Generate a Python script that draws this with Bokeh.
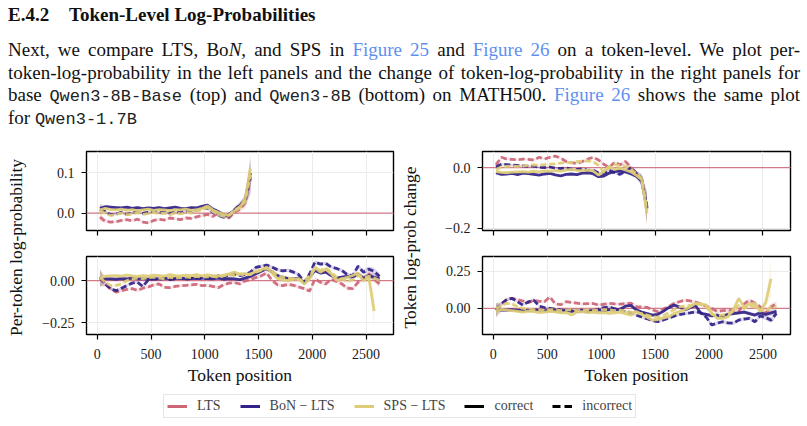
import math
from bokeh.plotting import figure
from bokeh.models import (ColumnDataSource, Range1d, FixedTicker, Span, Label,
                          Legend, LegendItem, Div)
from bokeh.layouts import column, row
from bokeh.embed import file_html
from bokeh.resources import INLINE

NAN = float("nan")

# ------------------------------------------------------------------ data
x_top = [25, 75, 125, 175, 225, 275, 325, 375, 425, 475, 525, 575, 625, 675, 725,
         775, 825, 875, 925, 975, 1025, 1075, 1125, 1175, 1225, 1275, 1325, 1375, 1425]
x_bot = [25, 75, 125, 175, 225, 275, 325, 375, 425, 475, 525, 575, 625, 675, 725,
         775, 825, 875, 925, 975, 1025, 1075, 1125, 1175, 1225, 1275, 1325, 1375,
         1425, 1475, 1525, 1575, 1625, 1675, 1725, 1775, 1825, 1875, 1925, 1975,
         2025, 2075, 2125, 2175, 2225, 2275, 2325, 2375, 2425, 2475, 2525, 2575, 2625]

# top-left: Qwen3-8B-Base, per-token log-probability
tl_lts_i = [-0.010, -0.020, -0.022, -0.021, -0.018, -0.016, -0.019, -0.015, -0.022, -0.024,
            -0.018, -0.015, -0.017, -0.012, -0.014, -0.016, -0.012, -0.013, -0.009, -0.006,
            -0.003, -0.008, 0.000, -0.006, -0.012, 0.002, 0.010, 0.025, 0.085]
tl_bon_c = [0.012, 0.016, 0.015, 0.014, 0.013, 0.015, 0.012, 0.014, 0.011, 0.013,
            0.012, 0.014, 0.011, 0.013, 0.015, 0.012, 0.011, 0.014, 0.013, 0.017,
            0.020, 0.010, 0.004, -0.004, -0.008, 0.006, 0.018, 0.032, 0.100]
tl_bon_i = [0.010, 0.004, -0.004, -0.002, 0.002, -0.003, 0.001, 0.004, 0.000, 0.002,
            0.005, 0.001, 0.003, 0.000, 0.004, 0.002, 0.006, 0.003, 0.008, 0.015,
            0.012, 0.002, -0.005, -0.010, -0.003, 0.008, 0.020, 0.030, 0.090]
tl_sps_c = [0.008, 0.012, 0.009, 0.008, 0.010, 0.007, 0.009, 0.006, 0.008, 0.010,
            0.007, 0.009, 0.008, 0.006, 0.009, 0.008, 0.010, 0.007, 0.009, 0.012,
            0.018, 0.008, 0.002, -0.003, -0.006, 0.005, 0.014, 0.035, 0.110]
tl_sps_i = [0.006, 0.000, -0.006, -0.003, 0.000, -0.004, -0.002, 0.001, -0.003, -0.001,
            0.002, -0.002, 0.000, -0.004, 0.001, -0.002, 0.002, 0.000, 0.004, 0.010,
            0.014, 0.004, -0.004, -0.008, -0.004, 0.006, 0.016, 0.028, 0.095]
tl_band = [0.010, 0.004, 0.003, 0.003, 0.003, 0.003, 0.003, 0.003, 0.003, 0.003,
           0.003, 0.003, 0.003, 0.003, 0.003, 0.003, 0.003, 0.003, 0.003, 0.004,
           0.004, 0.004, 0.004, 0.005, 0.005, 0.006, 0.008, 0.012, 0.040]

# top-right: Qwen3-8B-Base, token log-prob change
tr_lts_i = [0.009, 0.034, 0.028, 0.027, 0.026, 0.028, 0.027, 0.025, 0.034, 0.028,
            0.034, 0.038, 0.031, 0.020, 0.016, 0.013, 0.020, 0.028, 0.034, 0.025,
            0.011, 0.000, 0.018, 0.009, 0.020, 0.002, -0.020, -0.039, -0.134]
tr_bon_c = [-0.017, -0.022, -0.021, -0.019, -0.023, -0.018, -0.020, -0.022, -0.025, -0.021,
            -0.019, -0.024, -0.027, -0.022, -0.021, -0.023, -0.018, -0.017, -0.020, -0.030,
            -0.028, -0.018, -0.013, -0.011, -0.014, -0.020, -0.028, -0.045, -0.135]
tr_bon_i = [0.002, 0.011, 0.010, 0.008, 0.007, 0.006, 0.004, 0.005, 0.001, 0.000,
            0.002, -0.002, -0.003, -0.001, -0.005, -0.006, -0.004, -0.009, -0.008, -0.018,
            -0.020, -0.008, -0.017, -0.022, -0.012, 0.000, -0.018, -0.035, -0.130]
tr_sps_c = [-0.013, -0.016, -0.017, -0.015, -0.014, -0.013, -0.015, -0.012, -0.014, -0.011,
            -0.012, -0.010, -0.012, -0.008, -0.006, -0.009, -0.010, -0.008, -0.011, -0.025,
            -0.012, 0.004, -0.006, -0.002, -0.008, -0.014, -0.025, -0.040, -0.150]
tr_sps_i = [-0.006, 0.002, 0.004, 0.005, 0.004, 0.006, 0.007, 0.009, 0.008, 0.010,
            0.011, 0.012, 0.015, 0.017, 0.016, 0.020, 0.021, 0.022, 0.019, 0.008,
            -0.015, 0.000, 0.010, 0.006, 0.005, -0.005, -0.020, -0.035, -0.140]
tr_band = [0.008, 0.004, 0.003, 0.003, 0.003, 0.003, 0.003, 0.003, 0.003, 0.003,
           0.003, 0.003, 0.003, 0.003, 0.003, 0.003, 0.003, 0.003, 0.003, 0.004,
           0.004, 0.004, 0.004, 0.005, 0.005, 0.006, 0.008, 0.015, 0.050]

# bottom-left: Qwen3-8B, per-token log-probability
bl_lts_i = [0.010, -0.020, -0.048, -0.068, -0.060, -0.052, -0.048, -0.058, -0.045, -0.038,
            -0.025, -0.020, -0.040, -0.042, -0.035, -0.030, -0.028, -0.025, -0.022, -0.030,
            -0.028, -0.035, -0.042, -0.025, -0.015, -0.012, -0.020, -0.002, 0.005, 0.018,
            0.028, 0.045, 0.002, -0.025, -0.030, -0.022, -0.028, -0.038, -0.048, -0.062,
            0.010, -0.010, -0.020, 0.008, -0.005, -0.020, -0.045, -0.048, -0.010, 0.010,
            0.040, 0.010, -0.020]
bl_bon_c = [0.010, 0.012, 0.010, 0.008, 0.012, 0.010, 0.014, 0.010, 0.012, 0.008,
            0.012, 0.010, 0.014, 0.010, 0.012, 0.016, 0.010, 0.014, 0.012, 0.016,
            0.012, 0.010, 0.014, 0.008, 0.012, 0.010, 0.006, 0.015, 0.025, 0.040,
            0.055, 0.070, 0.050, 0.030, 0.020, 0.012, 0.010, 0.015, -0.015, 0.020,
            0.060, 0.045, 0.050, 0.030, 0.015, 0.020, 0.025, 0.020, 0.040, 0.015,
            0.030, 0.020, 0.010]
bl_bon_i = [0.020, -0.020, -0.050, -0.060, -0.045, -0.030, -0.015, -0.010, -0.035, 0.005,
            0.010, 0.008, 0.012, 0.006, 0.010, 0.014, 0.008, 0.012, 0.016, 0.010,
            0.014, 0.018, 0.028, 0.020, 0.032, 0.040, 0.030, 0.036, 0.050, 0.078,
            0.085, 0.092, 0.080, 0.065, 0.058, 0.062, 0.050, 0.035, -0.010, 0.040,
            0.110, 0.098, 0.102, 0.080, 0.072, 0.060, 0.035, 0.028, 0.085, 0.050,
            0.068, 0.055, 0.025]
bl_sps_c = [0.015, 0.025, 0.028, 0.030, 0.026, 0.032, 0.028, 0.025, 0.030, 0.027,
            0.032, 0.030, 0.026, 0.035, 0.030, 0.028, 0.033, 0.030, 0.036, 0.028,
            0.034, 0.030, 0.026, 0.032, 0.040, 0.050, 0.038, 0.042, 0.036, 0.055,
            0.062, 0.080, 0.045, 0.012, 0.005, 0.000, 0.008, 0.012, -0.020, 0.010,
            0.080, 0.050, 0.068, 0.040, 0.002, 0.010, 0.020, 0.030, 0.045, 0.000,
            0.020, -0.180, NAN]
bl_sps_i = [0.018, -0.010, -0.030, -0.028, -0.020, 0.000, 0.010, 0.015, 0.012, 0.018,
            0.020, 0.015, 0.010, 0.020, 0.015, 0.018, 0.022, 0.018, 0.025, 0.020,
            0.022, 0.025, 0.018, 0.028, 0.035, 0.030, 0.040, 0.032, 0.040, 0.050,
            0.060, 0.072, 0.060, 0.030, 0.020, 0.015, 0.010, 0.005, -0.005, 0.030,
            0.070, 0.060, 0.075, 0.050, 0.020, 0.010, -0.005, 0.005, 0.030, 0.020,
            0.025, 0.015, 0.000]
bl_band = [0.050, 0.012, 0.010, 0.008, 0.008, 0.008, 0.008, 0.008, 0.008, 0.008,
           0.008, 0.008, 0.008, 0.008, 0.008, 0.008, 0.008, 0.008, 0.008, 0.008,
           0.008, 0.008, 0.008, 0.008, 0.008, 0.008, 0.008, 0.008, 0.010, 0.010,
           0.010, 0.010, 0.010, 0.010, 0.010, 0.010, 0.010, 0.010, 0.010, 0.010,
           0.010, 0.010, 0.010, 0.010, 0.010, 0.010, 0.012, 0.012, 0.012, 0.014,
           0.016, 0.020, 0.020]
bl_band_sps_c = [0.050, 0.012, 0.010, 0.008, 0.008, 0.008, 0.008, 0.008, 0.008, 0.008,
                 0.008, 0.008, 0.008, 0.008, 0.008, 0.008, 0.008, 0.008, 0.008, 0.008,
                 0.008, 0.008, 0.008, 0.008, 0.008, 0.008, 0.008, 0.008, 0.010, 0.010,
                 0.010, 0.010, 0.010, 0.010, 0.010, 0.010, 0.010, 0.010, 0.010, 0.010,
                 0.010, 0.010, 0.010, 0.010, 0.010, 0.010, 0.012, 0.012, 0.012, 0.014,
                 0.020, 0.100, NAN]

# bottom-right: Qwen3-8B, token log-prob change
br_lts_i = [-0.010, 0.030, 0.060, 0.068, 0.060, 0.050, 0.038, 0.055, 0.048, 0.045,
            0.078, 0.030, 0.025, 0.045, 0.040, 0.036, 0.030, 0.032, 0.033, 0.022,
            0.028, 0.034, 0.030, 0.029, 0.032, 0.036, 0.012, 0.010, 0.007, -0.010,
            -0.022, -0.005, 0.012, 0.034, 0.045, 0.056, 0.050, 0.042, 0.030, 0.015,
            0.000, -0.020, -0.015, -0.011, -0.018, -0.020, 0.030, 0.056, 0.035, 0.010,
            -0.034, 0.011, 0.029]
br_bon_c = [-0.015, -0.010, -0.012, -0.008, -0.014, -0.010, -0.015, -0.008, -0.012, -0.016,
            -0.010, -0.014, -0.018, -0.012, -0.020, -0.015, -0.012, -0.018, -0.014, -0.010,
            -0.015, -0.008, -0.012, -0.005, 0.015, 0.020, -0.010, -0.025, -0.035, -0.045,
            -0.040, -0.020, 0.005, 0.022, 0.010, -0.010, 0.005, 0.020, -0.034, -0.040,
            -0.050, -0.045, -0.055, -0.040, -0.035, -0.030, -0.025, -0.035, -0.045, -0.030,
            -0.040, -0.030, -0.020]
br_bon_i = [-0.010, 0.030, 0.060, 0.067, 0.045, 0.022, 0.045, 0.056, 0.015, 0.005,
            0.000, -0.005, -0.010, -0.012, -0.015, -0.020, -0.022, -0.020, -0.018, -0.005,
            0.005, 0.011, -0.002, -0.011, -0.020, -0.029, -0.045, -0.058, -0.070, -0.082,
            -0.090, -0.078, -0.065, -0.052, -0.042, -0.036, -0.030, -0.022, -0.030, -0.060,
            -0.112, -0.100, -0.090, -0.098, -0.100, -0.079, -0.072, -0.067, -0.090, -0.050,
            -0.062, -0.079, -0.034]
br_sps_c = [-0.022, -0.007, -0.012, -0.015, -0.020, -0.025, -0.018, -0.022, -0.028, -0.025,
            -0.020, -0.024, -0.030, -0.028, -0.045, -0.025, -0.022, -0.028, -0.025, -0.030,
            -0.028, -0.034, -0.030, -0.025, -0.035, -0.045, -0.020, -0.040, -0.060, -0.079,
            -0.075, -0.065, -0.056, -0.035, -0.022, -0.008, 0.010, 0.034, 0.030, 0.022,
            -0.030, -0.067, -0.067, -0.056, -0.010, 0.067, 0.011, 0.030, 0.034, -0.022,
            0.040, 0.200, NAN]
br_sps_i = [-0.005, 0.022, 0.034, 0.030, 0.010, 0.000, -0.005, -0.008, -0.010, -0.012,
            -0.008, -0.010, -0.015, -0.012, -0.010, -0.015, -0.012, -0.010, -0.014, -0.012,
            -0.008, -0.010, -0.015, -0.012, -0.020, -0.025, -0.030, -0.035, -0.045, -0.055,
            -0.060, -0.050, -0.030, -0.010, 0.010, 0.015, 0.020, 0.030, 0.025, 0.010,
            -0.040, -0.050, -0.045, -0.035, -0.020, 0.020, 0.000, 0.020, 0.010, -0.010,
            -0.020, 0.010, 0.010]
br_band = [0.045, 0.012, 0.010, 0.008, 0.008, 0.008, 0.008, 0.008, 0.008, 0.008,
           0.008, 0.008, 0.008, 0.008, 0.008, 0.008, 0.008, 0.008, 0.008, 0.008,
           0.008, 0.008, 0.008, 0.008, 0.008, 0.008, 0.008, 0.008, 0.010, 0.010,
           0.010, 0.010, 0.010, 0.010, 0.010, 0.010, 0.010, 0.010, 0.010, 0.010,
           0.012, 0.012, 0.012, 0.012, 0.012, 0.012, 0.012, 0.012, 0.012, 0.014,
           0.016, 0.020, 0.020]
br_band_sps_c = [0.045, 0.012, 0.010, 0.008, 0.008, 0.008, 0.008, 0.008, 0.008, 0.008,
                 0.008, 0.008, 0.008, 0.008, 0.008, 0.008, 0.008, 0.008, 0.008, 0.008,
                 0.008, 0.008, 0.008, 0.008, 0.008, 0.008, 0.008, 0.008, 0.010, 0.010,
                 0.010, 0.010, 0.010, 0.010, 0.010, 0.010, 0.010, 0.010, 0.010, 0.010,
                 0.012, 0.012, 0.012, 0.012, 0.012, 0.012, 0.012, 0.012, 0.012, 0.014,
                 0.030, 0.120, NAN]

lts_baseline = 0.0
x_ticks = [0, 500, 1000, 1500, 2000, 2500]
x_tick_labels = ["0", "500", "1000", "1500", "2000", "2500"]
tl_yticks, tl_ylabels = [0.0, 0.1], ["0.0", "0.1"]
tr_yticks, tr_ylabels = [-0.2, 0.0], ["\u22120.2", "0.0"]
bl_yticks, bl_ylabels = [-0.25, 0.0], ["\u22120.25", "0.00"]
br_yticks, br_ylabels = [0.0, 0.25], ["0.00", "0.25"]

legend_labels = ["LTS", "BoN \u2212 LTS", "SPS \u2212 LTS", "correct", "incorrect"]
ylabel_left = "Per-token log-probability"
ylabel_right = "Token log-prob change"
xlabel = "Token position"

heading_num = "E.4.2"
heading_text = "Token-Level Log-Probabilities"

# ------------------------------------------------------------------ style
ROSE, INDIGO, SAND = "#CC6677", "#332288", "#DDCC77"
SERIF = "Liberation Serif"
MONO = "Liberation Mono"
LINK = "#5f8fef"
DASH = "6 3"
LEG_DASH = "8 4"
LW = 2.8


def mono(t):
    return (f"<span style=\"font-family:'{MONO}',monospace;font-size:17px;"
            f"color:#222;\">{t}</span>")


def link(t):
    return f"<span style=\"color:{LINK};\">{t}</span>"


para_lines = [
    "Next, we compare LTS, Bo<i>N</i>, and SPS in " + link("Figure 25") + " and "
    + link("Figure 26") + " on a token-level. We plot per-",
    "token-log-probability in the left panels and the change of token-log-probability "
    "in the right panels for",
    "base " + mono("Qwen3-8B-Base") + " (top) and " + mono("Qwen3-8B")
    + " (bottom) on MATH500. " + link("Figure 26") + " shows the same plot",
    "for " + mono("Qwen3-1.7B"),
]

html = (f"<div style=\"position:relative;width:807px;height:145px;"
        f"font-family:'{SERIF}',serif;color:#111;\">")
html += (f"<div style=\"position:absolute;left:8px;top:3px;font-size:19px;line-height:24px;"
         f"font-weight:bold;white-space:nowrap;\">{heading_num}</div>")
html += (f"<div style=\"position:absolute;left:69px;top:3px;font-size:19px;line-height:24px;"
         f"font-weight:bold;white-space:nowrap;\">{heading_text}</div>")
for i, ln in enumerate(para_lines):
    last = i == len(para_lines) - 1
    al = "left" if last else "justify"
    html += (f"<div style=\"position:absolute;left:8px;top:{39 + i * 22.5}px;width:792px;"
             f"font-size:19px;line-height:22.5px;text-align:{al};text-align-last:{al};"
             f"white-space:nowrap;\">{ln}</div>")
html += "</div>"

header = Div(text=html, width=807, height=145, margin=0)


def make_panel(width, height, bl, br, bt, bb, yr, yticks, ylabels, bottom,
               x, series, band, band_sps):
    p = figure(width=width, height=height, x_range=Range1d(-100, 2755),
               y_range=Range1d(*yr), output_backend="svg", toolbar_location=None,
               min_border_left=bl, min_border_right=br, min_border_top=bt,
               min_border_bottom=bb)
    p.outline_line_color = "black"
    p.outline_line_width = 1.4
    p.background_fill_color = "white"
    p.xaxis.ticker = FixedTicker(ticks=x_ticks)
    p.yaxis.ticker = FixedTicker(ticks=yticks)
    p.yaxis.major_label_overrides = {t: l for t, l in zip(yticks, ylabels)}
    p.yaxis.major_label_standoff = 7
    if bottom:
        p.xaxis.major_label_overrides = {t: l for t, l in zip(x_ticks, x_tick_labels)}
        p.xaxis.major_label_standoff = 9
        p.xaxis.axis_label = xlabel
        p.xaxis.axis_label_standoff = 3
    else:
        p.xaxis.major_label_overrides = {t: "" for t in x_ticks}
        p.xaxis.major_label_standoff = 0
    for ax in (p.xaxis[0], p.yaxis[0]):
        ax.axis_line_color = None
        ax.major_tick_line_color = "black"
        ax.major_tick_line_width = 1.2
        ax.major_tick_out = 5
        ax.major_tick_in = 0
        ax.minor_tick_line_color = None
        ax.major_label_text_font = SERIF
        ax.major_label_text_font_size = "14px"
        ax.major_label_text_color = "#1a1a1a"
        ax.axis_label_text_font = SERIF
        ax.axis_label_text_font_size = "17.5px"
        ax.axis_label_text_font_style = "normal"
        ax.axis_label_text_color = "#111111"
    if not bottom:
        p.xaxis.major_label_text_font_size = "0px"
    p.xgrid.grid_line_color = "#ebebeb"
    p.ygrid.grid_line_color = "#ebebeb"
    p.xgrid.grid_line_width = 1
    p.ygrid.grid_line_width = 1

    p.add_layout(Span(location=lts_baseline, dimension="width", line_color=ROSE,
                      line_width=1.3, line_alpha=0.85, level="underlay"))

    specs = [("lts_i", ROSE, DASH), ("bon_i", INDIGO, DASH), ("bon_c", INDIGO, "solid"),
             ("sps_i", SAND, DASH), ("sps_c", SAND, "solid")]
    for key, col, dash in specs:
        ys = series[key]
        bd = band_sps if (key == "sps_c" and band_sps is not None) else band
        src = ColumnDataSource(dict(x=x, lo=[a - b for a, b in zip(ys, bd)],
                                    hi=[a + b for a, b in zip(ys, bd)]))
        p.varea(x="x", y1="lo", y2="hi", source=src, fill_color=col, fill_alpha=0.18)
    for key, col, dash in specs:
        src = ColumnDataSource(dict(x=x, y=series[key]))
        p.line(x="x", y="y", source=src, line_color=col, line_width=LW,
               line_dash=dash, line_alpha=0.92)
    return p


tl = make_panel(370, 98, 56, 7, 6, 13, (-0.043, 0.153), tl_yticks, tl_ylabels, False,
                x_top, dict(lts_i=tl_lts_i, bon_c=tl_bon_c, bon_i=tl_bon_i,
                            sps_c=tl_sps_c, sps_i=tl_sps_i), tl_band, None)
tr = make_panel(377, 98, 52, 17, 6, 13, (-0.207, 0.053), tr_yticks, tr_ylabels, False,
                x_top, dict(lts_i=tr_lts_i, bon_c=tr_bon_c, bon_i=tr_bon_i,
                            sps_c=tr_sps_c, sps_i=tr_sps_i), tr_band, None)
bl = make_panel(370, 150, 56, 7, 13, 59, (-0.32, 0.143), bl_yticks, bl_ylabels, True,
                x_bot, dict(lts_i=bl_lts_i, bon_c=bl_bon_c, bon_i=bl_bon_i,
                            sps_c=bl_sps_c, sps_i=bl_sps_i), bl_band, bl_band_sps_c)
br = make_panel(377, 150, 52, 17, 13, 59, (-0.176, 0.35), br_yticks, br_ylabels, True,
                x_bot, dict(lts_i=br_lts_i, bon_c=br_bon_c, bon_i=br_bon_i,
                            sps_c=br_sps_c, sps_i=br_sps_i), br_band, br_band_sps_c)


def label_fig(text, xpos, ypos):
    f = figure(width=30, height=248, x_range=Range1d(0, 1), y_range=Range1d(0, 1),
               x_axis_type=None, y_axis_type=None, output_backend="svg",
               toolbar_location=None, min_border=0, outline_line_color=None)
    f.add_layout(Label(x=xpos, y=ypos, text=text, angle=90, angle_units="deg",
                       text_align="center", text_baseline="middle", text_font=SERIF,
                       text_font_size="17.5px", text_color="#111111"))
    return f


ylab_l = label_fig(ylabel_left, 0.5, 0.589)
ylab_r = label_fig(ylabel_right, 0.33, 0.589)

leg = figure(width=807, height=33, x_range=Range1d(0, 1), y_range=Range1d(0, 1),
             x_axis_type=None, y_axis_type=None, output_backend="svg",
             toolbar_location=None, min_border=0, outline_line_color=None)
leg_styles = [(ROSE, "solid"), (INDIGO, "solid"), (SAND, "solid"),
              ("black", "solid"), ("black", LEG_DASH)]
items = []
for lab, (col, dash) in zip(legend_labels, leg_styles):
    # legend-only renderer: its points lie outside the visible range
    r = leg.line(x=[5, 6], y=[5, 6], line_color=col, line_width=3, line_dash=dash)
    items.append(LegendItem(label=lab, renderers=[r]))
legend = Legend(items=items, location=(163, 8), orientation="horizontal",
                label_text_font=SERIF, label_text_font_size="14px",
                glyph_width=20, glyph_height=16, label_height=16, label_standoff=10,
                spacing=19, padding=3, margin=0, border_line_color="#cccccc",
                border_line_width=1, background_fill_color="white")
leg.add_layout(legend)

layout = column(header,
                row(ylab_l, column(tl, bl), ylab_r, column(tr, br)),
                leg)

open("out.html", "w").write(file_html(layout, INLINE))
